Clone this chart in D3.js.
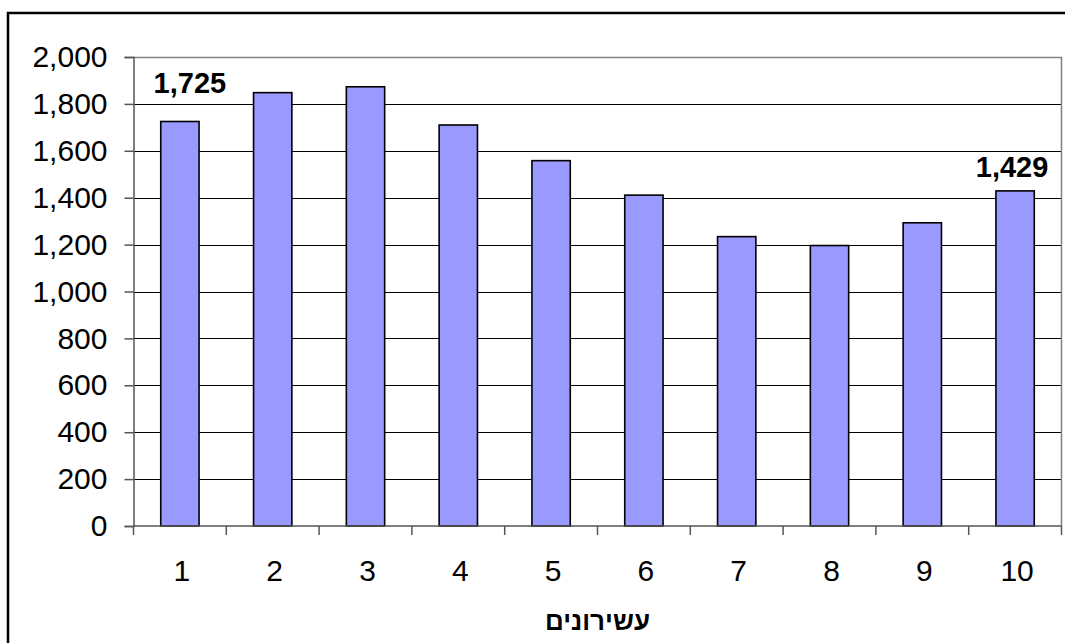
<!DOCTYPE html>
<html>
<head>
<meta charset="utf-8">
<script src="https://cdn.jsdelivr.net/npm/d3@7"></script>
<style>
  html, body { margin: 0; padding: 0; background: #fff; }
  svg { display: block; }
  text { font-family: "Liberation Sans", Arial, sans-serif; fill: #000; }
</style>
</head>
<body>
<svg id="chart" width="1065" height="643"></svg>
<script>
// Deciles and their values
const deciles = ["1", "2", "3", "4", "5", "6", "7", "8", "9", "10"];
const values = [1725, 1848, 1873, 1710, 1558, 1411, 1234, 1196, 1293, 1429];
const yTicks = [0, 200, 400, 600, 800, 1000, 1200, 1400, 1600, 1800, 2000];
const labelled = ["1", "10"];           // bars that carry a value label
const axisTitle = "עשירונים";

const W = 1065, H = 643;
const plot = { left: 133.5, right: 1061.5, top: 57, bottom: 526 };

const svg = d3.select("#chart");

// Outer chart frame (runs off the right and bottom edges)
svg.append("rect")
  .attr("x", 8).attr("y", 13)
  .attr("width", 1200).attr("height", 800)
  .attr("fill", "#fff").attr("stroke", "#000").attr("stroke-width", 2.5);

const x = d3.scaleBand().domain(deciles).range([plot.left, plot.right]).padding(0);
const y = d3.scaleLinear().domain([0, 2000]).range([plot.bottom, plot.top]);

const fmt = d3.format(",");

// Horizontal gridlines
svg.append("g")
  .selectAll("line")
  .data(yTicks.filter(d => d > 0 && d < 2000))
  .join("line")
  .attr("x1", plot.left).attr("x2", plot.right)
  .attr("y1", d => Math.round(y(d)) + 0.5).attr("y2", d => Math.round(y(d)) + 0.5)
  .attr("stroke", "#000").attr("stroke-width", 1);

// Plot area border (top and right)
svg.append("path")
  .attr("d", `M${plot.left},${plot.top + 0.5}H${plot.right}V${plot.bottom}`)
  .attr("fill", "none").attr("stroke", "#808080").attr("stroke-width", 1.5);

// Bars
const barFrac = 0.413;
const bw = x.bandwidth() * barFrac;
svg.append("g")
  .selectAll("rect")
  .data(deciles.map((d, i) => ({ k: d, v: values[i] })))
  .join("rect")
  .attr("x", d => x(d.k) + (x.bandwidth() - bw) / 2)
  .attr("y", d => y(d.v))
  .attr("width", bw)
  .attr("height", d => y(0) - y(d.v))
  .attr("fill", "#9999FF")
  .attr("stroke", "#000").attr("stroke-width", 1.6);

// Y axis
const yAxis = svg.append("g")
  .attr("transform", `translate(${plot.left},0)`)
  .call(d3.axisLeft(y).tickValues(yTicks).tickFormat(fmt).tickSize(9).tickPadding(17));
yAxis.select(".domain").attr("stroke", "#555").attr("stroke-width", 1.5);
yAxis.selectAll(".tick line").attr("stroke", "#555").attr("stroke-width", 1.5);
yAxis.selectAll("text")
  .attr("font-size", 30).attr("font-family", "'Liberation Sans', Arial, sans-serif")
  .attr("fill", "#000");

// X axis: baseline and ticks at category boundaries
const bounds = deciles.map(d => x(d)).concat([x(deciles[deciles.length - 1]) + x.bandwidth()]);
svg.append("line")
  .attr("x1", plot.left).attr("x2", plot.right)
  .attr("y1", plot.bottom).attr("y2", plot.bottom)
  .attr("stroke", "#555").attr("stroke-width", 1.5);
svg.append("g")
  .selectAll("line")
  .data(bounds)
  .join("line")
  .attr("x1", d => d).attr("x2", d => d)
  .attr("y1", plot.bottom).attr("y2", plot.bottom + 9)
  .attr("stroke", "#555").attr("stroke-width", 1.5);

// Category labels
svg.append("g")
  .selectAll("text")
  .data(deciles)
  .join("text")
  .attr("x", d => x(d) + x.bandwidth() / 2 + 2)
  .attr("y", 581)
  .attr("text-anchor", "middle")
  .attr("font-size", 30)
  .text(d => d);

// Value labels over the first and last bars
const labelShift = { "1": { dx: 10, dy: -28 }, "10": { dx: -3, dy: -14 } };
svg.append("g")
  .selectAll("text")
  .data(labelled)
  .join("text")
  .attr("x", d => x(d) + x.bandwidth() / 2 + labelShift[d].dx)
  .attr("y", d => y(values[deciles.indexOf(d)]) + labelShift[d].dy)
  .attr("text-anchor", "middle")
  .attr("font-size", 29)
  .attr("font-weight", "bold")
  .text(d => fmt(values[deciles.indexOf(d)]));

// Axis title
svg.append("text")
  .attr("x", (plot.left + plot.right) / 2)
  .attr("y", 630)
  .attr("text-anchor", "middle")
  .attr("direction", "rtl")
  .attr("font-size", 26)
  .attr("font-weight", "bold")
  .text(axisTitle);
</script>
</body>
</html>
